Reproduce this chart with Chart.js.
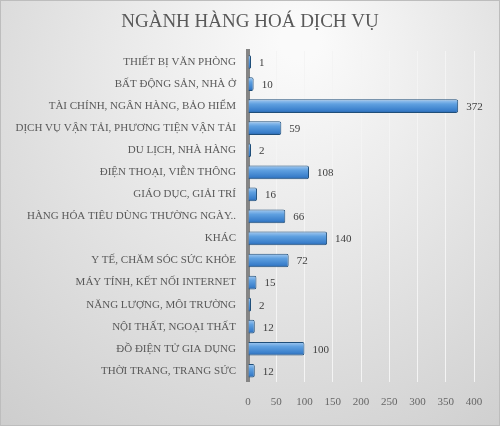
<!DOCTYPE html>
<html>
<head>
<meta charset="utf-8">
<script src="https://cdn.jsdelivr.net/npm/chart.js@4"></script>
<style>
  html, body { margin: 0; padding: 0; background: #ffffff; }
  #wrap { width: 500px; height: 426px; }
</style>
</head>
<body>
<div id="wrap"><canvas id="chart"></canvas></div>
<script>
// data
const chartTitle = 'NGÀNH HÀNG HOÁ DỊCH VỤ';
const categories = [
  'THIẾT BỊ VĂN PHÒNG',
  'BẤT ĐỘNG SẢN, NHÀ Ở',
  'TÀI CHÍNH, NGÂN HÀNG, BẢO HIỂM',
  'DỊCH VỤ VẬN TẢI, PHƯƠNG TIỆN VẬN TẢI',
  'DU LỊCH, NHÀ HÀNG',
  'ĐIỆN THOẠI, VIỄN THÔNG',
  'GIÁO DỤC, GIẢI TRÍ',
  'HÀNG HÓA TIÊU DÙNG THƯỜNG NGÀY..',
  'KHÁC',
  'Y TẾ, CHĂM SÓC SỨC KHỎE',
  'MÁY TÍNH, KẾT NỐI INTERNET',
  'NĂNG LƯỢNG, MÔI TRƯỜNG',
  'NỘI THẤT, NGOẠI THẤT',
  'ĐỒ ĐIỆN TỬ GIA DỤNG',
  'THỜI TRANG, TRANG SỨC'
];
const counts = [1, 10, 372, 59, 2, 108, 16, 66, 140, 72, 15, 2, 12, 100, 12];
const tickMin = 0;
const tickMax = 400;
const tickStep = 50;

const serif = "'Liberation Serif', 'DejaVu Serif', serif";
const textGrey = '#595959';

// grey gradient behind everything, like the office chart style
const backdrop = {
  id: 'backdrop',
  beforeDraw(chart) {
    const { ctx, width, height } = chart;
    ctx.save();
    const g = ctx.createRadialGradient(300, 40, 20, 260, 120, 520);
    g.addColorStop(0, '#fafafa');
    g.addColorStop(1, '#c2c2c2');
    ctx.fillStyle = g;
    ctx.fillRect(0, 0, width, height);
    ctx.strokeStyle = '#bdbdbd';
    ctx.lineWidth = 1;
    ctx.strokeRect(0.5, 0.5, width - 1, height - 1);
    ctx.restore();
  },
  // title centred on the whole canvas, not on the padded box
  afterDraw(chart) {
    const { ctx, width } = chart;
    ctx.save();
    ctx.font = '19px ' + serif;
    ctx.fillStyle = textGrey;
    ctx.textAlign = 'center';
    ctx.textBaseline = 'middle';
    ctx.fillText(chartTitle, width / 2, 22);
    ctx.restore();
  }
};

// value labels right of each bar
const valueLabels = {
  id: 'valueLabels',
  afterDatasetsDraw(chart) {
    const { ctx } = chart;
    const meta = chart.getDatasetMeta(0);
    ctx.save();
    ctx.font = '11px ' + serif;
    ctx.fillStyle = '#404040';
    ctx.textAlign = 'left';
    ctx.textBaseline = 'middle';
    meta.data.forEach((bar, i) => {
      ctx.fillText(String(counts[i]), bar.x + 8, bar.y + 1);
    });
    ctx.restore();
  }
};

// cylinder-ish shading across each bar
const barFill = (c) => {
  const chart = c.chart;
  const y = chart.scales && chart.scales.y;
  if (!y || c.type !== 'data') return '#5b9bd5';
  const mid = y.getPixelForValue(c.dataIndex);
  if (!Number.isFinite(mid)) return '#5b9bd5';
  const g = chart.ctx.createLinearGradient(0, mid - 7, 0, mid + 7);
  g.addColorStop(0, '#a9cdf2');
  g.addColorStop(0.35, '#5fa0e0');
  g.addColorStop(0.8, '#3a7fcb');
  g.addColorStop(1, '#2a63a6');
  return g;
};

new Chart(document.getElementById('chart'), {
  type: 'bar',
  data: {
    labels: categories,
    datasets: [{
      data: counts,
      backgroundColor: barFill,
      borderColor: '#1f4e79',
      borderWidth: 1,
      borderRadius: 2,
      borderSkipped: 'start',
      minBarLength: 3,
      barPercentage: 0.62,
      categoryPercentage: 1
    }]
  },
  options: {
    indexAxis: 'y',
    responsive: true,
    maintainAspectRatio: false,
    animation: false,
    layout: { padding: { left: 0, right: 26, top: 51, bottom: 3 } },
    plugins: {
      legend: { display: false },
      tooltip: { enabled: false },
      title: { display: false }
    },
    scales: {
      x: {
        min: tickMin,
        max: tickMax,
        ticks: {
          stepSize: tickStep,
          color: '#666666',
          padding: 14,
          font: { family: serif, size: 11 }
        },
        grid: { color: '#f4f4f4', lineWidth: 1, drawTicks: false },
        border: { display: false }
      },
      y: {
        afterFit(scale) { scale.width = 248; },
        ticks: {
          color: textGrey,
          padding: 12,
          autoSkip: false,
          font: { family: serif, size: 11 }
        },
        grid: { display: false, drawTicks: false },
        border: { display: true, color: '#858585', width: 4 }
      }
    }
  },
  plugins: [backdrop, valueLabels]
});
</script>
</body>
</html>
